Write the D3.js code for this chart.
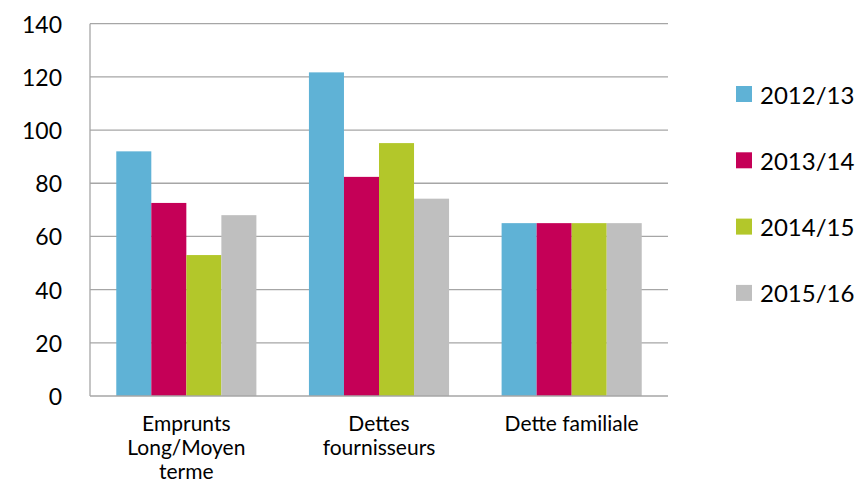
<!DOCTYPE html>
<html><head><meta charset="utf-8">
<script src="https://cdn.jsdelivr.net/npm/d3@7"></script>
<style>body{margin:0;background:#fff}svg{display:block}text{font-family:Lato,"Open Sans",sans-serif;fill:#000}</style>
</head><body><svg id="c" width="859" height="484"></svg>
<script>
const categories = [["Emprunts","Long/Moyen","terme"],["Dettes","fournisseurs"],["Dette familiale"]];
const seriesNames = ["2012/13","2013/14","2014/15","2015/16"];
const v2012 = [92, 121.7, 65];
const v2013 = [72.6, 82.4, 65];
const v2014 = [53, 95.1, 65];
const v2015 = [68, 74.2, 65];
const values = {"2012/13": v2012, "2013/14": v2013, "2014/15": v2014, "2015/16": v2015};
const colors = ["#5FB2D6","#C50057","#B3C72A","#BFBFBF"];
const yTicks = [0,20,40,60,80,100,120,140];

const svg = d3.select("#c");
const L=90, R=668, T=23.7, B=396;
const x0 = d3.scaleBand().domain(d3.range(categories.length)).range([L,R]);
const bandW = x0.bandwidth();
const barW = bandW/5.5;
const x1 = d3.scaleBand().domain(seriesNames).range([0, barW*4]);
const y = d3.scaleLinear().domain([0,140]).range([B,T]);

svg.append("g").selectAll("line").data(yTicks.filter(d=>d>0)).join("line")
  .attr("x1",L).attr("x2",R).attr("y1",d=>y(d)).attr("y2",d=>y(d))
  .attr("stroke","#a6a6a6").attr("stroke-width",1.3);

const groups = svg.append("g").selectAll("g").data(categories).join("g")
  .attr("transform",(d,i)=>`translate(${x0(i) + barW*0.75},0)`);
groups.selectAll("rect").data((d,i)=>seriesNames.map((s,k)=>({s,k,v:values[s][i]}))).join("rect")
  .attr("x",d=>x1(d.s)).attr("width",x1.bandwidth())
  .attr("y",d=>y(d.v)).attr("height",d=>B-y(d.v))
  .attr("fill",d=>colors[d.k]);

svg.append("line").attr("x1",L).attr("x2",L).attr("y1",T).attr("y2",B).attr("stroke","#a6a6a6").attr("stroke-width",1.3);
svg.append("line").attr("x1",L).attr("x2",R).attr("y1",B).attr("y2",B).attr("stroke","#a6a6a6").attr("stroke-width",1.3);

svg.append("g").selectAll("text").data(yTicks).join("text")
  .attr("x",62).attr("y",d=>y(d)).attr("text-anchor","end").attr("dominant-baseline","central")
  .attr("font-size",23).text(d=>d);

categories.forEach((lines,i)=>{
  const cx = x0(i) + bandW/2;
  const t = svg.append("text").attr("text-anchor","middle").attr("font-size",21);
  lines.forEach((ln,j)=>t.append("tspan").attr("x",cx).attr("y",431+j*24).text(ln));
});

const lg = svg.append("g").selectAll("g").data(seriesNames).join("g")
  .attr("transform",(d,i)=>`translate(736,${86+i*66.3})`);
lg.append("rect").attr("width",16).attr("height",16).attr("fill",(d,i)=>colors[i]);
lg.append("text").attr("x",24).attr("y",8).attr("dominant-baseline","central").attr("font-size",24).text(d=>d);
</script></body></html>
